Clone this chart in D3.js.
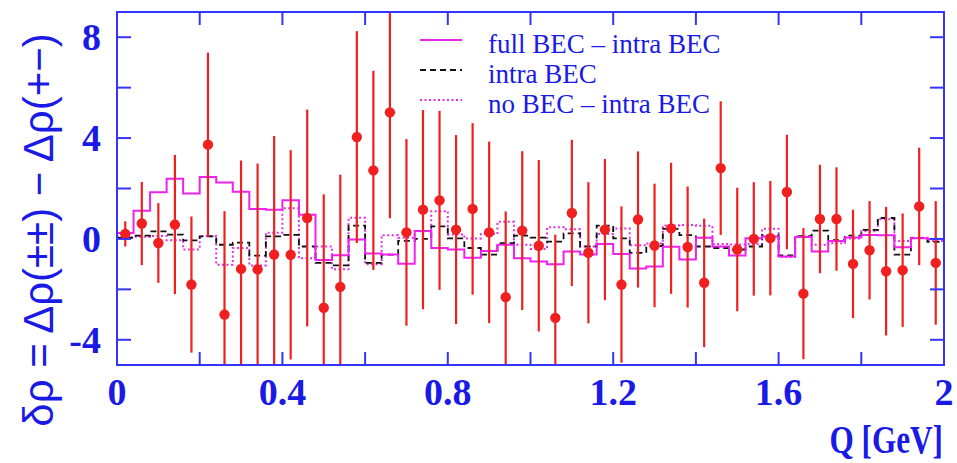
<!DOCTYPE html>
<html>
<head>
<meta charset="utf-8">
<script src="https://cdn.jsdelivr.net/npm/d3@7"></script>
<style>
  html, body { margin: 0; padding: 0; background: #fff; }
  svg { display: block; }
</style>
</head>
<body>
<svg id="chart" width="957" height="463"></svg>
<script>
// Bin centres in Q [GeV]; each bin is 0.04 GeV wide
const qCenters = [0.02,0.06,0.10,0.14,0.18,0.22,0.26,0.30,0.34,0.38,
                  0.42,0.46,0.50,0.54,0.58,0.62,0.66,0.70,0.74,0.78,
                  0.82,0.86,0.90,0.94,0.98,1.02,1.06,1.10,1.14,1.18,
                  1.22,1.26,1.30,1.34,1.38,1.42,1.46,1.50,1.54,1.58,
                  1.62,1.66,1.70,1.74,1.78,1.82,1.86,1.90,1.94,1.98];
const binWidth = 0.04;

// Measured δρ with statistical errors
const dataVals = [0.2,0.61,-0.16,0.57,-1.81,3.74,-3.0,-1.19,-1.21,-0.62,
                  -0.63,0.83,-2.73,-1.9,4.04,2.72,5.02,0.26,1.16,1.53,
                  0.37,1.19,0.26,-2.31,0.33,-0.27,-3.13,1.03,-0.55,0.37,
                  -1.81,0.77,-0.26,0.42,-0.32,-1.74,2.81,-0.42,0.0,0.03,
                  1.86,-2.17,0.79,0.79,-0.99,-0.45,-1.28,-1.24,1.29,-0.95];
const dataErr  = [0.5,1.65,1.58,2.76,2.7,3.65,4.1,4.3,4.2,4.7,
                  4.15,4.3,4.5,4.45,4.2,3.95,4.2,3.7,3.95,3.55,
                  3.75,3.4,3.6,3.4,3.15,3.4,3.3,2.9,2.8,2.8,
                  3.1,2.7,2.45,2.6,2.4,2.55,2.65,2.45,2.25,2.27,
                  2.27,2.6,2.15,2.05,2.15,1.95,2.55,2.25,2.33,2.45];

// Model histograms
const fullBEC  = [0.24,1.12,1.85,2.39,1.8,2.46,2.24,1.87,1.19,1.16,
                  1.53,0.96,-0.84,-0.65,-0.02,-0.58,-0.62,-0.98,0.31,-0.36,
                  -0.42,-0.75,-0.48,-0.23,-0.77,-0.9,-1.0,-0.5,-0.62,-0.2,
                  -0.6,-1.17,-1.09,-0.31,-0.82,0.05,-0.3,-0.66,0.03,0.1,
                  -0.7,0.08,-0.5,-0.08,0.06,0.16,0.15,-0.33,0.03,0.0];
const intraBEC = [0.04,0.13,0.3,0.17,-0.06,0.1,-0.23,-0.15,-0.66,0.1,
                  0.16,-0.3,-0.95,-1.05,0.53,-0.95,-0.62,-0.08,0.0,0.5,
                  0.02,-0.36,-0.62,-0.17,0.13,0.05,-0.11,0.22,-0.3,0.53,
                  0.02,-0.55,-0.28,0.4,0.15,-0.3,-0.36,-0.42,-0.3,0.15,
                  -0.65,0.11,0.33,-0.05,0.13,0.36,0.83,-0.62,0.04,-0.12];
const noBEC    = [0.08,0.09,0.12,-0.05,-0.42,0.12,-1.02,-0.36,-1.05,0.25,
                  1.22,-0.77,-0.3,-1.2,0.84,-1.0,0.15,0.05,0.3,1.1,
                  0.18,0.02,0.2,0.68,-0.23,-0.4,0.46,0.38,-0.3,0.2,
                  0.41,-0.25,-0.18,0.53,0.55,0.52,-0.2,-0.22,-0.2,0.4,
                  -0.72,0.1,-0.23,-0.17,0.02,0.3,0.78,-0.08,0.05,-0.08];

// Axis ticks
const xTicks = [0,0.2,0.4,0.6,0.8,1.0,1.2,1.4,1.6,1.8,2.0];
const xTickLabels = [0,0.4,0.8,1.2,1.6,2];
const yTicks = [-4,-2,0,2,4,6,8];
const yTickLabels = [-4,0,4,8];

const legendItems = [
  {label: "full BEC \u2013 intra BEC", key: "full"},
  {label: "intra BEC", key: "intra"},
  {label: "no BEC \u2013 intra BEC", key: "no"}
];

const blueFrame = "#3434ff";
const blueText = "#1a1ae6";
const red = "#f02020";
const styles = {
  full:  {stroke: "#ee22ee", dash: null, width: 2},
  intra: {stroke: "#111111", dash: "6,4", width: 1.8},
  no:    {stroke: "#e030e0", dash: "2,2.5", width: 2}
};

const svg = d3.select("#chart");
const plot = {left: 117, right: 944, top: 12, bottom: 365};

const x = d3.scaleLinear().domain([0, 2]).range([plot.left, plot.right]);
const y = d3.scaleLinear().domain([-5, 9]).range([plot.bottom, plot.top]);

svg.append("defs").append("clipPath").attr("id", "plotClip")
  .append("rect")
  .attr("x", plot.left).attr("y", plot.top)
  .attr("width", plot.right - plot.left).attr("height", plot.bottom - plot.top);

const g = svg.append("g").attr("clip-path", "url(#plotClip)");

// Step histograms: one horizontal segment per bin
function histPoints(vals) {
  const pts = vals.map((v, i) => [qCenters[i] - binWidth / 2, v]);
  pts.push([qCenters[vals.length - 1] + binWidth / 2, vals[vals.length - 1]]);
  return pts;
}
const stepLine = d3.line()
  .x(d => x(d[0])).y(d => y(d[1]))
  .curve(d3.curveStepAfter);

[["no", noBEC], ["intra", intraBEC], ["full", fullBEC]].forEach(([key, vals]) => {
  const s = styles[key];
  g.append("path")
    .attr("d", stepLine(histPoints(vals)))
    .attr("fill", "none")
    .attr("stroke", s.stroke)
    .attr("stroke-width", s.width)
    .attr("stroke-dasharray", s.dash);
});

// Data points with error bars
const pts = g.append("g");
pts.selectAll("line.err")
  .data(dataVals)
  .join("line")
  .attr("class", "err")
  .attr("x1", (d, i) => x(qCenters[i]))
  .attr("x2", (d, i) => x(qCenters[i]))
  .attr("y1", (d, i) => y(d - dataErr[i]))
  .attr("y2", (d, i) => y(d + dataErr[i]))
  .attr("stroke", red)
  .attr("stroke-width", 2.2);
pts.selectAll("circle")
  .data(dataVals)
  .join("circle")
  .attr("cx", (d, i) => x(qCenters[i]))
  .attr("cy", d => y(d))
  .attr("r", 5.2)
  .attr("fill", red);

// Frame
svg.append("rect")
  .attr("x", plot.left).attr("y", plot.top)
  .attr("width", plot.right - plot.left).attr("height", plot.bottom - plot.top)
  .attr("fill", "none").attr("stroke", blueFrame).attr("stroke-width", 2);

// Inward ticks on all four sides
const tickLen = 13;
const ticks = svg.append("g").attr("stroke", blueFrame).attr("stroke-width", 2);
xTicks.forEach(t => {
  ticks.append("line").attr("x1", x(t)).attr("x2", x(t))
    .attr("y1", plot.bottom).attr("y2", plot.bottom - tickLen);
  ticks.append("line").attr("x1", x(t)).attr("x2", x(t))
    .attr("y1", plot.top).attr("y2", plot.top + tickLen);
});
yTicks.forEach(t => {
  ticks.append("line").attr("x1", plot.left).attr("x2", plot.left + tickLen + 1)
    .attr("y1", y(t)).attr("y2", y(t));
  ticks.append("line").attr("x1", plot.right).attr("x2", plot.right - tickLen - 1)
    .attr("y1", y(t)).attr("y2", y(t));
});

// Tick labels
const serif = "'Liberation Serif', 'Times New Roman', serif";
svg.append("g").selectAll("text")
  .data(xTickLabels)
  .join("text")
  .attr("x", d => x(d))
  .attr("y", 405)
  .attr("text-anchor", "middle")
  .attr("font-family", serif)
  .attr("font-size", 38)
  .attr("font-weight", "bold")
  .attr("fill", blueText)
  .text(d => d3.format("")(d));

svg.append("g").selectAll("text")
  .data(yTickLabels)
  .join("text")
  .attr("x", 101)
  .attr("y", d => y(d) + 13)
  .attr("text-anchor", "end")
  .attr("font-family", serif)
  .attr("font-size", 38)
  .attr("font-weight", "bold")
  .attr("fill", blueText)
  .text(d => d);

// Axis titles
svg.append("text")
  .attr("transform", "translate(943,453) scale(0.78,1)")
  .attr("text-anchor", "end")
  .attr("font-family", serif)
  .attr("font-size", 40)
  .attr("font-weight", "bold")
  .attr("fill", blueText)
  .text("Q [GeV]");

svg.append("text")
  .attr("transform", "translate(53,230) rotate(-90)")
  .attr("text-anchor", "middle")
  .attr("font-family", "'Liberation Sans', Arial, sans-serif")
  .attr("font-size", 42)
  .attr("fill", blueText)
  .text("\u03b4\u03c1 = \u0394\u03c1(\u00b1\u00b1) \u2212 \u0394\u03c1(+\u2212)");

// Legend
const legend = svg.append("g");
const legendY = [40, 70, 100];
legendItems.forEach((item, i) => {
  const s = styles[item.key];
  legend.append("line")
    .attr("x1", 420).attr("x2", 462)
    .attr("y1", legendY[i]).attr("y2", legendY[i])
    .attr("stroke", s.stroke)
    .attr("stroke-width", s.width)
    .attr("stroke-dasharray", s.dash);
  legend.append("text")
    .attr("x", 488).attr("y", legendY[i] + 13)
    .attr("font-family", serif)
    .attr("font-size", 27)
    .attr("fill", blueText)
    .text(item.label);
});
</script>
</body>
</html>
